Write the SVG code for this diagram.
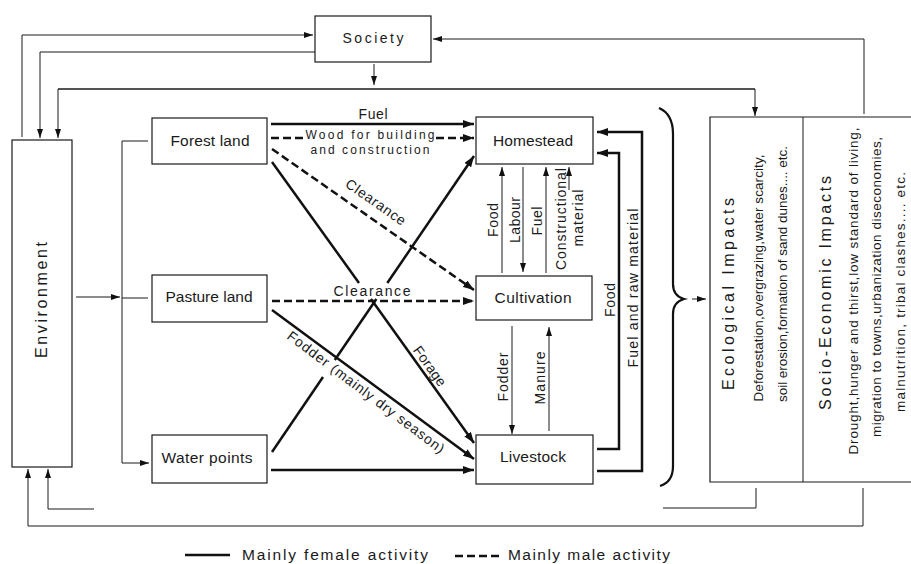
<svg xmlns="http://www.w3.org/2000/svg" width="911" height="564" viewBox="0 0 911 564">
<style>
text{font-family:"Liberation Sans",Arial,sans-serif;fill:#1a1a1a}
.n{font-size:15.5px;text-anchor:middle}
.l{font-size:14px;text-anchor:middle}
.v{font-size:14px;text-anchor:middle}
.h{font-size:16px;text-anchor:middle}
.s{font-size:13.5px;text-anchor:middle}
.box{fill:#fff;stroke:#1a1a1a;stroke-width:1.2}
.thin{fill:none;stroke:#1a1a1a;stroke-width:1}
.thick{fill:none;stroke:#111;stroke-width:2.5}
.dash{fill:none;stroke:#111;stroke-width:2.5;stroke-dasharray:8 4}
</style>
<defs>
<marker id="ah" markerUnits="userSpaceOnUse" markerWidth="11" markerHeight="8" refX="11" refY="4" orient="auto"><path d="M0,0 L11,4 L0,8 z" fill="#111"/></marker>
<marker id="as" markerUnits="userSpaceOnUse" markerWidth="9" markerHeight="6" refX="9" refY="3" orient="auto"><path d="M0,0 L9,3 L0,6 z" fill="#111"/></marker>
</defs>
<rect width="911" height="564" fill="#fff"/>

<g id="connectors">
<polyline class="thin" points="22,137 22,35 313,35" marker-end="url(#as)"/>
<polyline class="thin" points="315,52 40,52 40,138" marker-end="url(#as)"/>
<polyline class="thin" points="374,64 374,85" marker-end="url(#as)"/>
<polyline class="thin" points="755,89 58,89 58,138" marker-end="url(#as)"/>
<polyline class="thin" points="58,89 755,89 755,116" marker-end="url(#as)"/>
<polyline class="thin" points="864,114 864,39 433,39" marker-end="url(#as)"/>
<polyline class="thin" points="756,488 756,508 663,508"/>
<polyline class="thin" points="94,509 48,509 48,469" marker-end="url(#as)"/>
<polyline class="thin" points="863,488 863,526 28,526 28,469" marker-end="url(#as)"/>
<polyline class="thin" points="76,297 120,297" marker-end="url(#as)"/>
<polyline class="thin" points="148,141 122,141 122,463 149,463" marker-end="url(#as)"/>
<polyline class="thin" points="122,298 148,298"/>
<line class="thick" x1="271" y1="124" x2="474" y2="124" marker-end="url(#ah)"/>
<line class="dash" x1="271" y1="138" x2="304" y2="138"/>
<line class="dash" x1="436" y1="138" x2="474" y2="138" marker-end="url(#ah)"/>
<line class="dash" x1="272" y1="149" x2="474" y2="290" marker-end="url(#ah)"/>
<line class="thick" x1="272" y1="162" x2="359" y2="283"/>
<line class="thick" x1="371" y1="299" x2="474" y2="443" marker-end="url(#ah)"/>
<line class="dash" x1="272" y1="301" x2="474" y2="301" marker-end="url(#ah)"/>
<line class="thick" x1="272" y1="310" x2="474" y2="459" marker-end="url(#ah)"/>
<line class="thick" x1="272" y1="452" x2="323" y2="377"/>
<line class="thick" x1="334.8" y1="360" x2="376.4" y2="299"/>
<line class="thick" x1="387.3" y1="283" x2="474" y2="156" marker-end="url(#ah)"/>
<line class="thick" x1="271" y1="470" x2="474" y2="470" marker-end="url(#ah)"/>
<line class="thin" x1="502" y1="273" x2="502" y2="167" marker-end="url(#as)"/>
<line class="thin" x1="523" y1="167" x2="523" y2="272" marker-end="url(#as)"/>
<line class="thin" x1="546" y1="273" x2="546" y2="167" marker-end="url(#as)"/>
<line class="thin" x1="569" y1="190" x2="569" y2="167" marker-end="url(#as)"/>
<line class="thin" x1="512" y1="326" x2="512" y2="434" marker-end="url(#as)"/>
<line class="thin" x1="549" y1="431" x2="549" y2="327" marker-end="url(#as)"/>
<polyline class="thick" points="597,449 619,449 619,153 597,153" marker-end="url(#ah)"/>
<polyline class="thick" points="597,471 642,471 642,132 597,132" marker-end="url(#ah)"/>
<path d="M659,108 Q673,114 673,134 L673,284 Q673,296 684,299 Q673,302 673,314 L673,466 Q673,482 660,486" fill="none" stroke="#111" stroke-width="2.2"/>
<line class="thin" x1="692" y1="299" x2="706" y2="299" marker-end="url(#as)"/>
</g>

<g id="society">
<rect class="box" x="315" y="16" width="116" height="46"/>
<text class="n" x="373" y="43" style="font-size:14px" textLength="61">Society</text>
</g>

<g id="environment">
<rect class="box" x="12" y="140" width="60" height="327"/>
<text class="h" transform="translate(47,300) rotate(-90)" textLength="116">Environment</text>
</g>

<g id="forest-land">
<rect class="box" x="152" y="118" width="115" height="46"/>
<text class="n" x="210" y="146" textLength="79">Forest land</text>
</g>

<g id="pasture-land">
<rect class="box" x="152" y="275" width="115" height="47"/>
<text class="n" x="209" y="302" textLength="87">Pasture land</text>
</g>

<g id="water-points">
<rect class="box" x="152" y="435" width="115" height="48"/>
<text class="n" x="207" y="463" textLength="91">Water points</text>
</g>

<g id="homestead">
<rect class="box" x="476" y="117" width="117" height="47"/>
<text class="n" x="533" y="146" textLength="80">Homestead</text>
</g>

<g id="cultivation">
<rect class="box" x="476" y="276" width="116" height="44"/>
<text class="n" x="533" y="303" textLength="77">Cultivation</text>
</g>

<g id="livestock">
<rect class="box" x="476" y="435" width="117" height="49"/>
<text class="n" x="533" y="462" textLength="66">Livestock</text>
</g>

<g id="impacts">
<path d="M915,117 H710 V482 H915" fill="none" stroke="#1a1a1a" stroke-width="1.2"/>
<line class="thin" x1="803" y1="117" x2="803" y2="482"/>
<text class="h" transform="translate(734,294) rotate(-90)" textLength="192">Ecological Impacts</text>
<text class="s" transform="translate(763,278) rotate(-90)" textLength="247">Deforestation,overgrazing,water scarcity,</text>
<text class="s" transform="translate(787,274) rotate(-90)" textLength="256">soil erosion,formation of sand dunes.... etc.</text>
<text class="h" transform="translate(831,293) rotate(-90)" textLength="234">Socio-Economic Impacts</text>
<text class="s" transform="translate(858,291) rotate(-90)" textLength="327">Drought,hunger and thirst,low standard of living,</text>
<text class="s" transform="translate(881,287) rotate(-90)" textLength="300">migration to towns,urbanization diseconomies,</text>
<text class="s" transform="translate(905,292) rotate(-90)" textLength="240">malnutrition, tribal clashes.... etc.</text>
</g>

<g id="labels">
<text class="l" x="373" y="119" textLength="29">Fuel</text>
<text class="l" x="370" y="139" style="font-size:12px" textLength="129">Wood for building</text>
<text class="l" x="370" y="153.5" style="font-size:12px" textLength="119">and construction</text>
<text class="l" transform="translate(373,206) rotate(35)" textLength="70">Clearance</text>
<text class="l" x="372" y="296" textLength="77">Clearance</text>
<text class="l" transform="translate(426,369) rotate(54.4)" textLength="46">Forage</text>
<text class="l" transform="translate(363,396) rotate(37)" textLength="193">Fodder (mainly dry season)</text>
<text class="v" transform="translate(498,220) rotate(-90)" textLength="34">Food</text>
<text class="v" transform="translate(520,220) rotate(-90)" textLength="46">Labour</text>
<text class="v" transform="translate(542,221) rotate(-90)" textLength="29">Fuel</text>
<text class="v" transform="translate(566,219) rotate(-90)" textLength="102">Constructional</text>
<text class="v" transform="translate(583,218) rotate(-90)" textLength="57">material</text>
<text class="v" transform="translate(508,377) rotate(-90)" textLength="49">Fodder</text>
<text class="v" transform="translate(545,378) rotate(-90)" textLength="53">Manure</text>
<text class="v" transform="translate(615,300) rotate(-90)" textLength="34">Food</text>
<text class="v" transform="translate(638,288) rotate(-90)" textLength="159">Fuel and raw material</text>
</g>

<g id="legend">
<line class="thick" x1="185" y1="555" x2="230" y2="555"/>
<text x="242" y="560" style="font-size:15.5px" textLength="186">Mainly female activity</text>
<line class="dash" x1="455" y1="556" x2="500" y2="556"/>
<text x="508" y="560" style="font-size:15.5px" textLength="162">Mainly male activity</text>
</g>
</svg>
